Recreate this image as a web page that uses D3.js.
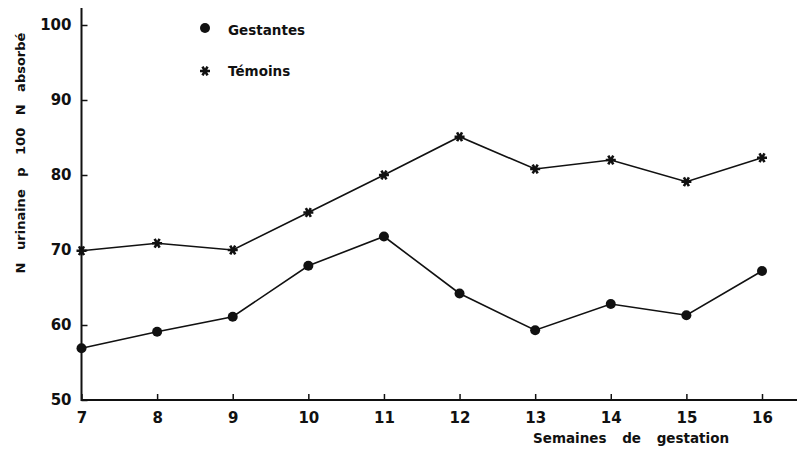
<!DOCTYPE html>
<html><head><meta charset="utf-8">
<script src="https://cdn.jsdelivr.net/npm/d3@7"></script>
<style>body{margin:0;background:#fff}svg{display:block}text{font-family:"DejaVu Sans",sans-serif;font-weight:bold;fill:#111}</style>
</head><body><svg id="c" width="797" height="450"></svg>
<script>
const weeks = [7, 8, 9, 10, 11, 12, 13, 14, 15, 16];
const gestantes = [56.9, 59.1, 61.1, 67.9, 71.8, 64.2, 59.3, 62.8, 61.3, 67.2];
const temoins = [69.9, 70.9, 70.0, 75.0, 80.0, 85.1, 80.8, 82.0, 79.1, 82.3];
const yTicks = [50, 60, 70, 80, 90, 100];
const seriesNames = ["Gestantes", "Témoins"];
const yTitle = "N urinaine p 100 N absorbé";
const xTitle = "Semaines de gestation";

const svg = d3.select("#c");
const x = d3.scaleLinear().domain([7, 16]).range([81.5, 762]);
const y = d3.scaleLinear().domain([50, 100]).range([400, 25]);
const ink = "#111";

// axes
const gx = svg.append("g").attr("transform", "translate(0,400)")
  .call(d3.axisBottom(x).tickValues(weeks).tickSize(-6).tickPadding(12).tickFormat(d3.format("d")));
gx.select(".domain").remove();
gx.append("line").attr("x1", 81.5).attr("x2", 797).attr("stroke", ink).attr("stroke-width", 2);
gx.selectAll("text").attr("font-size", 15).style("font-family", "DejaVu Sans").style("font-weight", "bold").attr("fill", ink);
gx.selectAll(".tick line").attr("stroke", ink).attr("stroke-width", 1.5);

const gy = svg.append("g").attr("transform", "translate(81.5,0)")
  .call(d3.axisLeft(y).tickValues(yTicks).tickSize(-6).tickPadding(10).tickFormat(d3.format("d")));
gy.select(".domain").remove();
gy.append("line").attr("y1", 8).attr("y2", 401).attr("stroke", ink).attr("stroke-width", 2);
gy.selectAll("text").attr("font-size", 15).style("font-family", "DejaVu Sans").style("font-weight", "bold").attr("fill", ink);
gy.selectAll(".tick line").attr("stroke", ink).attr("stroke-width", 1.5);

// titles
svg.append("text").attr("transform", "translate(25,153) rotate(-90)").attr("text-anchor", "middle")
  .attr("font-size", 13).attr("word-spacing", 8).text(yTitle);
svg.append("text").attr("x", 533).attr("y", 443).attr("font-size", 13.5).attr("word-spacing", 11).text(xTitle);

// lines
const line = d3.line().x((d, i) => x(weeks[i])).y(d => y(d));
[gestantes, temoins].forEach(s => {
  svg.append("path").datum(s).attr("d", line).attr("fill", "none").attr("stroke", ink).attr("stroke-width", 1.6);
});

svg.append("g").selectAll("circle").data(gestantes).join("circle")
  .attr("cx", (d, i) => x(weeks[i])).attr("cy", d => y(d)).attr("r", 5).attr("fill", ink);

const star = d3.symbol().type(d3.symbolAsterisk).size(70);
svg.append("g").selectAll("path").data(temoins).join("path")
  .attr("transform", (d, i) => `translate(${x(weeks[i])},${y(d)}) rotate(90)`).attr("d", star)
  .attr("fill", "none").attr("stroke", ink).attr("stroke-width", 2.6);

// legend
svg.append("circle").attr("cx", 205).attr("cy", 28).attr("r", 5).attr("fill", ink);
svg.append("text").attr("x", 228).attr("y", 35).attr("font-size", 13.5).text(seriesNames[0]);
svg.append("path").attr("transform", "translate(205,71) rotate(90)").attr("d", star)
  .attr("fill", "none").attr("stroke", ink).attr("stroke-width", 2.6);
svg.append("text").attr("x", 228).attr("y", 76).attr("font-size", 13.5).text(seriesNames[1]);
</script></body></html>
